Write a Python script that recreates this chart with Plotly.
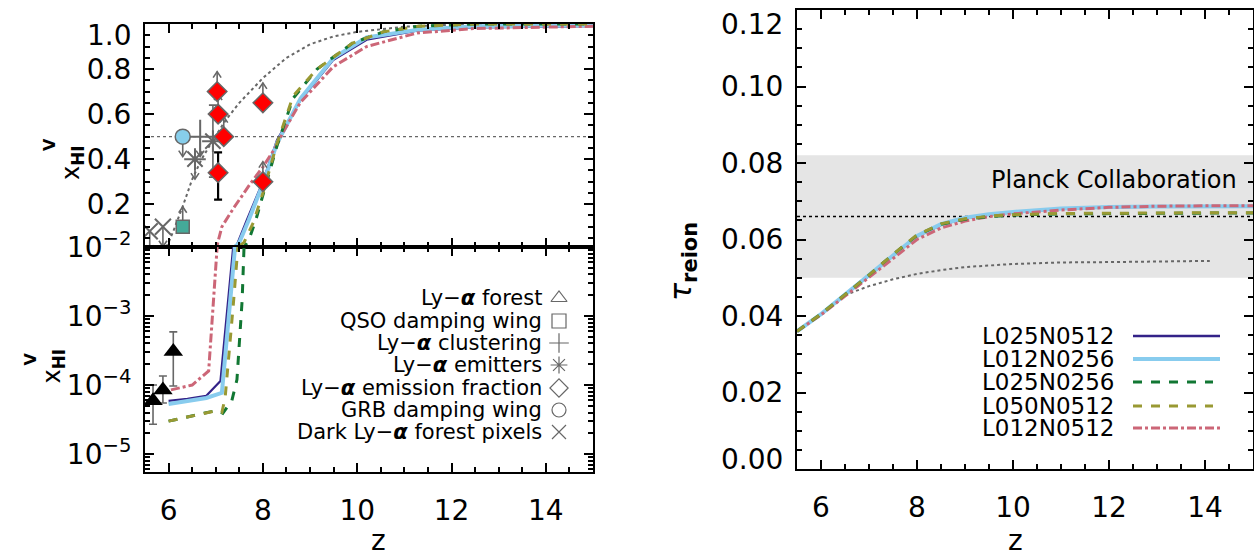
import plotly.graph_objects as go

W, H = 1254, 559
FONT = "DejaVu Sans"
GRAY = "#676767"

# ---------------- data ----------------
# Volume-weighted neutral fraction vs redshift (models)
z_L025N0512 = [6.0, 6.4, 6.8, 7.1, 7.37, 7.45, 7.66, 7.9, 8.0, 8.3, 8.79, 9.49, 10.2, 11.27, 12.5, 15.0]
x_L025N0512 = [5.9e-5, 6.3e-5, 7.0e-5, 1.14e-4, 0.01, 0.02, 0.13, 0.25, 0.30, 0.485, 0.66, 0.84, 0.93, 0.97, 0.985, 0.99]
z_L012N0256 = [6.0, 6.4, 6.8, 7.13, 7.41, 7.5, 7.7, 8.0, 8.3, 8.8, 9.5, 10.2, 11.3, 12.5, 15.0]
x_L012N0256 = [5.3e-5, 5.9e-5, 6.5e-5, 7.7e-5, 0.01, 0.03, 0.13, 0.29, 0.47, 0.67, 0.85, 0.94, 0.975, 0.99, 0.995]
z_L025N0256 = [6.0, 6.5, 7.03, 7.15, 7.34, 7.45, 7.56, 7.6, 7.7, 7.85, 8.0, 8.3, 8.64, 9.15, 9.9, 10.55, 11.3, 12.5, 15.0]
x_L025N0256 = [3.0e-5, 3.6e-5, 4.3e-5, 3.9e-5, 5.9e-5, 1.2e-4, 1.7e-3, 0.01, 0.04, 0.13, 0.24, 0.46, 0.67, 0.80, 0.915, 0.965, 0.99, 1.0, 1.0]
z_L050N0512 = [6.0, 6.5, 6.98, 7.13, 7.2, 7.37, 7.47, 7.6, 7.8, 8.0, 8.3, 8.64, 9.15, 9.9, 10.55, 11.3, 12.5, 15.0]
x_L050N0512 = [3.0e-5, 3.6e-5, 4.2e-5, 4.0e-5, 6.6e-5, 1.4e-3, 0.01, 0.03, 0.12, 0.25, 0.47, 0.68, 0.80, 0.915, 0.965, 0.99, 1.0, 1.0]
z_L012N0512 = [6.05, 6.5, 6.85, 6.95, 7.02, 7.13, 7.37, 7.73, 8.0, 8.26, 8.43, 8.79, 9.49, 10.2, 11.27, 12.5, 15.0]
x_L012N0512 = [8.5e-5, 1.0e-4, 1.6e-4, 1.5e-3, 0.01, 0.10, 0.18, 0.29, 0.365, 0.45, 0.52, 0.65, 0.81, 0.90, 0.96, 0.98, 0.99]
# grey dotted reference model
z_ref = [5.95, 6.0, 6.1, 6.3, 6.5, 6.7, 6.9, 7.2, 7.5, 8.0, 8.5, 9.0, 9.5, 10.0, 11.0, 12.0, 13.0, 15.0]
x_ref = [0.01, 0.03, 0.08, 0.19, 0.31, 0.40, 0.47, 0.57, 0.65, 0.76, 0.85, 0.91, 0.945, 0.965, 0.988, 0.997, 1.0, 1.0]

# Observational constraints
# Ly-alpha forest (bottom panel): z, value, upper, lower
lyf_z = [5.67, 5.88, 6.1]
lyf_x = [5.9e-5, 8.5e-5, 3.06e-4]
lyf_hi = [1.0e-4, 1.35e-4, 5.9e-4]
lyf_lo = [2.7e-5, 5.5e-5, 9.7e-5]
# QSO damping wing (lower limit)
qso_z = [6.3]; qso_x = [0.1]
# Ly-alpha clustering (upper limit)
clus_z = [6.67]; clus_x = [0.5]
# Ly-alpha emitters: upper limit and measurement with error
lae_lim_z = [6.56]; lae_lim_x = [0.40]
lae_z = [6.94]; lae_x = [0.48]; lae_hi = [0.64]; lae_lo = [0.32]
# Ly-alpha emission fraction: lower limits and one measurement
laef_lim_z = [7.03, 7.05, 7.17, 8.0, 8.0]
laef_lim_x = [0.70, 0.60, 0.50, 0.65, 0.30]
laef_z = [7.05]; laef_x = [0.34]; laef_hi = [0.43]; laef_lo = [0.22]
# GRB damping wing (upper limit)
grb_z = [6.3]; grb_x = [0.5]
# Dark Ly-alpha forest pixels (upper limits)
dark_z = [5.6, 5.88]; dark_x = [0.08, 0.10]

# Optical depth to reionization
z_tau = [5.5, 6.0, 6.5, 7.0, 7.5, 8.0, 8.5, 9.0, 9.5, 10.0, 11.0, 12.0, 13.0, 14.0, 15.0]
tau_L025N0512 = [0.036, 0.0405, 0.0455, 0.0505, 0.0558, 0.0608, 0.0638, 0.0655, 0.0665, 0.0671, 0.0680, 0.0684, 0.0686, 0.0686, 0.0686]
tau_L012N0256 = [0.036, 0.0405, 0.0456, 0.0506, 0.0559, 0.0609, 0.0640, 0.0657, 0.0666, 0.0672, 0.0681, 0.0685, 0.0686, 0.0687, 0.0687]
tau_L025N0256 = [0.036, 0.0405, 0.0456, 0.0507, 0.0561, 0.0611, 0.0640, 0.0653, 0.0660, 0.0664, 0.0667, 0.0668, 0.0669, 0.0669, 0.0669]
tau_L050N0512 = [0.036, 0.0405, 0.0456, 0.0507, 0.0561, 0.0612, 0.0641, 0.0654, 0.0661, 0.0665, 0.0668, 0.0669, 0.0670, 0.0670, 0.0670]
tau_L012N0512 = [0.036, 0.0403, 0.0452, 0.0500, 0.0550, 0.0600, 0.0630, 0.0648, 0.0660, 0.0667, 0.0677, 0.0684, 0.0687, 0.0688, 0.0688]
z_tau_ref = [5.5, 6.0, 6.5, 7.0, 7.5, 8.0, 8.5, 9.0, 10.0, 11.0, 12.0, 13.0, 14.1]
tau_ref = [0.036, 0.0405, 0.0455, 0.0478, 0.0496, 0.0510, 0.0520, 0.0528, 0.0536, 0.0540, 0.0541, 0.0543, 0.0544]
planck_tau, planck_err = 0.066, 0.016

tau_ticks = [0.00, 0.02, 0.04, 0.06, 0.08, 0.10, 0.12]
xhi_ticks = [0.2, 0.4, 0.6, 0.8, 1.0]
log_ticks = [1e-5, 1e-4, 1e-3, 1e-2]

models = ["L025N0512", "L012N0256", "L025N0256", "L050N0512", "L012N0512"]
colors = {"L025N0512": "#332288", "L012N0256": "#88CCEE", "L025N0256": "#117733",
          "L050N0512": "#999933", "L012N0512": "#CC6677"}
widths = {"L025N0512": 2.2, "L012N0256": 4, "L025N0256": 3, "L050N0512": 3, "L012N0512": 3}
dashes = {"L025N0512": "solid", "L012N0256": "solid", "L025N0256": "dash",
          "L050N0512": "dash", "L012N0512": "dashdot"}
xhi = {"L025N0512": (z_L025N0512, x_L025N0512), "L012N0256": (z_L012N0256, x_L012N0256),
       "L025N0256": (z_L025N0256, x_L025N0256), "L050N0512": (z_L050N0512, x_L050N0512),
       "L012N0512": (z_L012N0512, x_L012N0512)}
taus = {"L025N0512": tau_L025N0512, "L012N0256": tau_L012N0256, "L025N0256": tau_L025N0256,
        "L050N0512": tau_L050N0512, "L012N0512": tau_L012N0512}
draw_order = ["L025N0512", "L012N0256", "L012N0512", "L025N0256", "L050N0512"]

legend1_labels = ["Ly\u2212<b><i>\u03b1</i></b> forest", "QSO damping wing", "Ly\u2212<b><i>\u03b1</i></b> clustering",
                  "Ly\u2212<b><i>\u03b1</i></b> emitters", "Ly\u2212<b><i>\u03b1</i></b> emission fraction",
                  "GRB damping wing", "Dark Ly\u2212<b><i>\u03b1</i></b> forest pixels"]
legend1_symbols = ["triangle-up-open", "square-open", "cross-thin-open", "asterisk-open",
                   "diamond-open", "circle-open", "x-thin-open"]

# ---------------- layout geometry (pixels) ----------------
L_X0, L_X1 = 145, 593
TOP_Y0, MID_Y, BOT_Y1 = 24, 247, 472
R_X0, R_X1, R_Y0, R_Y1 = 797, 1253, 10, 469

def px(x):
    return x / W

def py(y):
    return 1 - y / H

fig = go.Figure()

ZPP = (15 - 5.5) / (L_X1 - L_X0)       # z per pixel
YPP = (1.0 - 0.01) / (MID_Y - TOP_Y0)   # x_HI per pixel

def arrows(zs, ys, direction, length=20, head=6, half=4):
    X, Y = [], []
    for z, y in zip(zs, ys):
        tip = y + direction * length * YPP
        X += [z, z, None, z - half * ZPP, z, z + half * ZPP, None]
        Y += [y, tip, None, tip - direction * head * YPP, tip, tip - direction * head * YPP, None]
    return X, Y

def add_line(x, y, xa, ya, color, width, dash="solid"):
    fig.add_trace(go.Scatter(x=x, y=y, mode="lines", xaxis=xa, yaxis=ya, showlegend=False,
                             line=dict(color=color, width=width, dash=dash), hoverinfo="skip"))

# ---------- left panels: models ----------
for xa, ya in (("x", "y"), ("x2", "y2")):
    if xa == "x":
        add_line(z_ref, x_ref, xa, ya, GRAY, 2, "dot")
    for m in draw_order:
        zz, xx = xhi[m]
        add_line(zz, xx, xa, ya, colors[m], widths[m], dashes[m])

add_line([5.5, 15], [0.5, 0.5], "x", "y", GRAY, 1.3, "dot")

for zs, ys, d in ((qso_z, qso_x, 1), (laef_lim_z, laef_lim_x, 1), (grb_z, grb_x, -1),
                  (clus_z, clus_x, -1), (lae_lim_z, lae_lim_x, -1), (dark_z, dark_x, -1)):
    ax_, ay_ = arrows(zs, ys, d)
    add_line(ax_, ay_, "x", "y", GRAY, 1.6)

fig.add_trace(go.Scatter(x=lae_z, y=lae_x, xaxis="x", yaxis="y", mode="markers", showlegend=False,
                         marker=dict(symbol="asterisk-open", size=18, color=GRAY, line=dict(color=GRAY, width=2)),
                         error_y=dict(type="data", symmetric=False,
                                      array=[h - v for h, v in zip(lae_hi, lae_x)],
                                      arrayminus=[v - l for l, v in zip(lae_lo, lae_x)],
                                      color=GRAY, thickness=1.6, width=4)))
fig.add_trace(go.Scatter(x=laef_z, y=laef_x, xaxis="x", yaxis="y", mode="markers", showlegend=False,
                         marker=dict(symbol="diamond", size=15, color="#ff0000", line=dict(color=GRAY, width=1.5)),
                         error_y=dict(type="data", symmetric=False,
                                      array=[h - v for h, v in zip(laef_hi, laef_x)],
                                      arrayminus=[v - l for l, v in zip(laef_lo, laef_x)],
                                      color="black", thickness=2.2, width=4)))
fig.add_trace(go.Scatter(x=dark_z, y=dark_x, xaxis="x", yaxis="y", mode="markers", showlegend=False,
                         marker=dict(symbol="x-thin-open", size=16, color=GRAY, line=dict(color=GRAY, width=2))))
fig.add_trace(go.Scatter(x=lae_lim_z, y=lae_lim_x, xaxis="x", yaxis="y", mode="markers", showlegend=False,
                         marker=dict(symbol="asterisk-open", size=18, color=GRAY, line=dict(color=GRAY, width=2))))
fig.add_trace(go.Scatter(x=clus_z, y=clus_x, xaxis="x", yaxis="y", mode="markers", showlegend=False,
                         marker=dict(symbol="cross-thin-open", size=24, color=GRAY, line=dict(color=GRAY, width=2))))
fig.add_trace(go.Scatter(x=grb_z, y=grb_x, xaxis="x", yaxis="y", mode="markers", showlegend=False,
                         marker=dict(symbol="circle", size=15, color="#87CEEB", line=dict(color=GRAY, width=1.5))))
fig.add_trace(go.Scatter(x=qso_z, y=qso_x, xaxis="x", yaxis="y", mode="markers", showlegend=False,
                         marker=dict(symbol="square", size=13, color="#44AA99", line=dict(color=GRAY, width=1.5))))
fig.add_trace(go.Scatter(x=laef_lim_z, y=laef_lim_x, xaxis="x", yaxis="y", mode="markers", showlegend=False,
                         marker=dict(symbol="diamond", size=15, color="#ff0000", line=dict(color=GRAY, width=1.5))))

fig.add_trace(go.Scatter(x=lyf_z, y=lyf_x, xaxis="x2", yaxis="y2", mode="markers", showlegend=False,
                         marker=dict(symbol="triangle-up", size=17, color="black"),
                         error_y=dict(type="data", symmetric=False,
                                      array=[h - v for h, v in zip(lyf_hi, lyf_x)],
                                      arrayminus=[v - l for l, v in zip(lyf_lo, lyf_x)],
                                      color=GRAY, thickness=1.6, width=4)))

# ---------- right panel ----------
add_line(z_tau_ref, tau_ref, "x3", "y3", GRAY, 2, "dot")
add_line([5.5, 15], [planck_tau, planck_tau], "x3", "y3", "black", 1.5, "dot")
for m in draw_order:
    add_line(z_tau, taus[m], "x3", "y3", colors[m], widths[m], dashes[m])

# ---------- legends (overlay pixel axes) ----------
leg1_y = [298, 321, 343, 365, 388, 410, 432]
fig.add_trace(go.Scatter(x=[559] * len(leg1_y), y=leg1_y, xaxis="x4", yaxis="y4", mode="markers",
                         showlegend=False, hoverinfo="skip",
                         marker=dict(symbol=legend1_symbols, size=14, color=GRAY, line=dict(color=GRAY, width=1.2))))
annotations = []
for lab, yy in zip(legend1_labels, leg1_y):
    annotations.append(dict(x=px(544), y=py(yy), xref="paper", yref="paper", text=lab, showarrow=False,
                            xanchor="right", yanchor="middle", font=dict(family=FONT, size=21, color="black")))

leg2_y = [336, 359, 382, 406, 428]
for m, yy in zip(models, leg2_y):
    x_end = 1220 if dashes[m] != "dash" else 1213
    add_line([1133, x_end], [yy, yy], "x4", "y4", colors[m], widths[m] if m != "L025N0512" else 2.5, dashes[m])
    annotations.append(dict(x=px(1116), y=py(yy), xref="paper", yref="paper", text=m, showarrow=False,
                            xanchor="right", yanchor="middle", font=dict(family=FONT, size=23, color="black")))

annotations.append(dict(x=px(1239), y=py(180), xref="paper", yref="paper", text="Planck Collaboration",
                        showarrow=False, xanchor="right", yanchor="middle",
                        font=dict(family=FONT, size=24, color="black")))

TICKFONT = dict(family=FONT, size=28, color="black")
# edge tick labels, nudged inside the frame as in the original
annotations += [
    dict(x=px(134), y=py(36), xref="paper", yref="paper", text=f"{xhi_ticks[-1]:.1f}", showarrow=False,
         xanchor="right", yanchor="middle", font=TICKFONT),
    dict(x=px(785), y=py(25), xref="paper", yref="paper", text=f"{tau_ticks[-1]:.2f}", showarrow=False,
         xanchor="right", yanchor="middle", font=TICKFONT),
    dict(x=px(785), y=py(459), xref="paper", yref="paper", text=f"{tau_ticks[0]:.2f}", showarrow=False,
         xanchor="right", yanchor="middle", font=TICKFONT),
]

annotations += [
    dict(x=px(369), y=0, xref="paper", yref="paper", text="z", showarrow=False, yanchor="bottom",
         font=dict(family=FONT, size=28, color="black")),
    dict(x=px(1025), y=0, xref="paper", yref="paper", text="z", showarrow=False, yanchor="bottom",
         font=dict(family=FONT, size=28, color="black")),
    dict(x=px(55), y=py(143), xref="paper", yref="paper", text="x<sub><b>HI</b></sub>", textangle=-90,
         showarrow=False, font=dict(family=FONT, size=24, color="black")),
    dict(x=px(38), y=py(136), xref="paper", yref="paper", text="<b>V</b>", textangle=-90,
         showarrow=False, font=dict(family=FONT, size=16, color="black")),
    dict(x=px(35), y=py(366), xref="paper", yref="paper", text="x<sub><b>HI</b></sub>", textangle=-90,
         showarrow=False, font=dict(family=FONT, size=24, color="black")),
    dict(x=px(18), y=py(359), xref="paper", yref="paper", text="<b>V</b>", textangle=-90,
         showarrow=False, font=dict(family=FONT, size=16, color="black")),
    dict(x=px(682), y=py(262), xref="paper", yref="paper", text="<i>\u03c4</i><sub><b>reion</b></sub>",
         textangle=-90, showarrow=False, font=dict(family=FONT, size=30, color="black")),
]

common = dict(showline=True, linecolor="black", linewidth=2, mirror="ticks", ticks="inside",
              tickcolor="black", tickwidth=2, ticklen=9, showgrid=False, zeroline=False,
              tickfont=TICKFONT, automargin=False)
minor_lin = lambda d: dict(ticks="inside", ticklen=5, tickwidth=1.5, tickcolor="black", dtick=d, showgrid=False)

fig.update_layout(
    width=W, height=H, margin=dict(l=0, r=0, t=0, b=0, autoexpand=False),
    paper_bgcolor="white", plot_bgcolor="rgba(0,0,0,0)",
    font=dict(family=FONT, color="black"),
    showlegend=False,
    xaxis=dict(domain=[px(L_X0), px(L_X1)], range=[5.5, 15], dtick=2, tick0=0, showticklabels=False,
               minor=minor_lin(0.5), anchor="y", **common),
    yaxis=dict(domain=[py(MID_Y), py(TOP_Y0)], range=[0.01, 1.0], tickvals=xhi_ticks,
               ticktext=[f"{v:.1f}" for v in xhi_ticks[:-1]] + [""], minor=minor_lin(0.05), anchor="x",
               ticklabelstandoff=6, **common),
    xaxis2=dict(domain=[px(L_X0), px(L_X1)], range=[5.5, 15], dtick=2, tick0=0, anchor="y2",
                minor=minor_lin(0.5), ticklabelstandoff=12, **common),
    yaxis2=dict(domain=[py(BOT_Y1), py(MID_Y)], type="log", range=[-5.26, -2],
                tickvals=log_ticks,
                ticktext=["10<sup>\u22125</sup>", "10<sup>\u22124</sup>", "10<sup>\u22123</sup>", "10<sup>\u22122</sup>"],
                minor=dict(ticks="inside", ticklen=5, tickwidth=1.5, tickcolor="black", dtick="D1", showgrid=False),
                anchor="x2", ticklabelstandoff=6, **common),
    xaxis3=dict(domain=[px(R_X0), px(R_X1)], range=[5.5, 15], dtick=2, tick0=0, anchor="y3",
                minor=minor_lin(0.5), ticklabelstandoff=12, **common),
    yaxis3=dict(domain=[py(R_Y1), py(R_Y0)], range=[0, 0.12], tickvals=tau_ticks,
                ticktext=[""] + [f"{v:.2f}" for v in tau_ticks[1:-1]] + [""], anchor="x3",
                minor=minor_lin(0.005), ticklabelstandoff=6, **common),
    xaxis4=dict(domain=[0, 1], range=[0, W], visible=False, anchor="y4", fixedrange=True),
    yaxis4=dict(domain=[0, 1], range=[H, 0], visible=False, anchor="x4", fixedrange=True),
    shapes=[dict(type="rect", xref="x3", yref="y3", x0=5.5, x1=15, y0=planck_tau - planck_err,
                 y1=planck_tau + planck_err, fillcolor="#e5e5e5", line=dict(width=0), layer="below")],
    annotations=annotations,
)

fig.write_html("out.html")
